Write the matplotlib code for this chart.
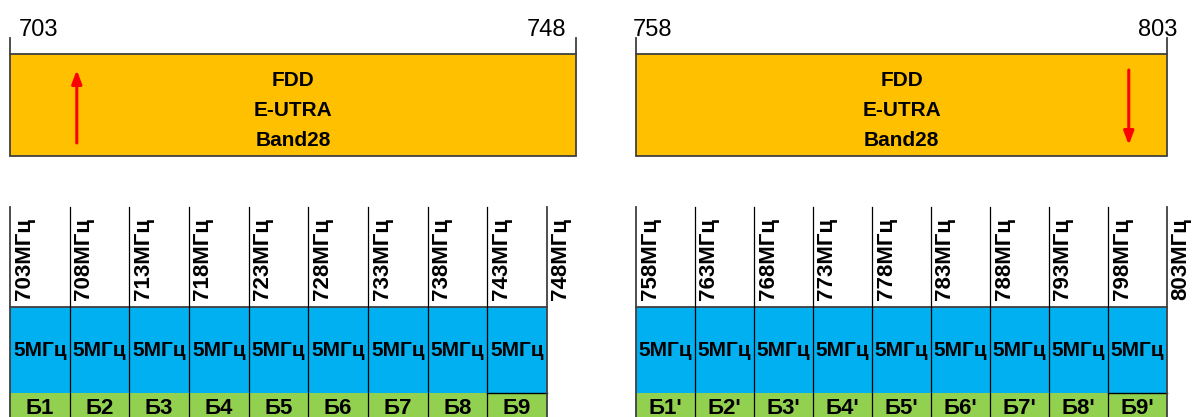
import matplotlib
matplotlib.use("Agg")
import matplotlib.pyplot as plt

# Band edges (MHz)
UL_BAND = (703, 748)
DL_BAND = (758, 803)
BAND_TEXT = ["FDD", "E-UTRA", "Band28"]

# Channel grid (5 MHz blocks)
UL_STARTS = [703, 708, 713, 718, 723, 728, 733, 738, 743]
DL_STARTS = [758, 763, 768, 773, 778, 783, 788, 793, 798]
BLOCK_WIDTH = 5
BLOCK_TEXT = "5МГц"
UL_NAMES = ["Б1", "Б2", "Б3", "Б4", "Б5", "Б6", "Б7", "Б8", "Б9"]
DL_NAMES = ["Б1'", "Б2'", "Б3'", "Б4'", "Б5'", "Б6'", "Б7'", "Б8'", "Б9'"]

ORANGE = "#FFC000"
BLUE = "#00B0F0"
GREEN = "#92D050"
EDGE = "#404040"
FONT = ["Liberation Sans", "DejaVu Sans"]

W, H = 1192, 417
fig = plt.figure(figsize=(W / 100, H / 100), dpi=100)


def make_ax(x0, x1, band):
    ax = fig.add_axes([x0 / W, 0, (x1 - x0) / W, 1])
    ax.set_xlim(*band)
    ax.set_ylim(H, 0)
    ax.axis("off")
    return ax


def draw_band(ax, band, lab_offsets, arrow_x, up):
    lo, hi = band
    ax.bar(lo, 102, width=hi - lo, bottom=54, align="edge",
           color=ORANGE, edgecolor=EDGE, lw=1.3, clip_on=False)
    for f, off in zip(band, lab_offsets):
        ax.plot([f, f], [38, 54], color=EDGE, lw=1.3, clip_on=False)
        ax.annotate(str(f), (f, 36), xytext=(off, 0), textcoords="offset pixels",
                    ha="center", va="baseline", fontsize=17, family=FONT,
                    annotation_clip=False)
    mid = (lo + hi) / 2
    for i, t in enumerate(BAND_TEXT):
        ax.text(mid, 80 + 30 * i, t, ha="center", va="center",
                fontsize=15, fontweight="bold", family=FONT)
    xa = lo + arrow_x * (hi - lo)
    y0, y1 = (143, 70) if up else (70, 145)
    ax.annotate("", xy=(xa, y1), xytext=(xa, y0),
                arrowprops=dict(arrowstyle="-|>,head_length=0.8,head_width=0.3",
                                color="red", lw=2.2, shrinkA=0, shrinkB=0))


def draw_grid(ax, starts, names):
    edges = starts + [starts[-1] + BLOCK_WIDTH]
    ax.bar(starts, 86, width=BLOCK_WIDTH, bottom=307, align="edge",
           color=BLUE, lw=0, clip_on=False)
    ax.bar(starts, 30, width=BLOCK_WIDTH, bottom=393, align="edge",
           color=GREEN, lw=0, clip_on=False)
    ax.plot([edges[0], edges[-1]], [307, 307], color=EDGE, lw=1.3, clip_on=False)
    ax.plot([starts[-1], edges[-1]], [393, 393], color="black", lw=1.0, clip_on=False)
    for i, f in enumerate(edges):
        outer = i in (0, len(edges) - 1)
        ax.plot([f, f], [207, H], color=EDGE if outer else "black",
                lw=1.3 if outer else 0.9, clip_on=False)
        ax.annotate(f"{f}МГц", (f, 300), xytext=(14, 0), textcoords="offset pixels",
                    rotation=90, ha="center", va="bottom", fontsize=16,
                    fontweight="bold", family=FONT, annotation_clip=False)
    for f, n in zip(starts, names):
        c = f + BLOCK_WIDTH / 2
        ax.text(c, 350, BLOCK_TEXT, ha="center", va="center", fontsize=15,
                fontweight="bold", family=FONT)
        ax.text(c, 414, n, ha="center", va="baseline", fontsize=16,
                fontweight="bold", family=FONT)


ax_ul_top = make_ax(10, 576, UL_BAND)
ax_ul_bot = make_ax(10, 547, UL_BAND)
ax_dl = make_ax(636, 1167, DL_BAND)

draw_band(ax_ul_top, UL_BAND, (29, -29), 0.118, up=True)
draw_band(ax_dl, DL_BAND, (16, -9), 0.928, up=False)
draw_grid(ax_ul_bot, UL_STARTS, UL_NAMES)
draw_grid(ax_dl, DL_STARTS, DL_NAMES)

fig.savefig("out.png", dpi=100)
